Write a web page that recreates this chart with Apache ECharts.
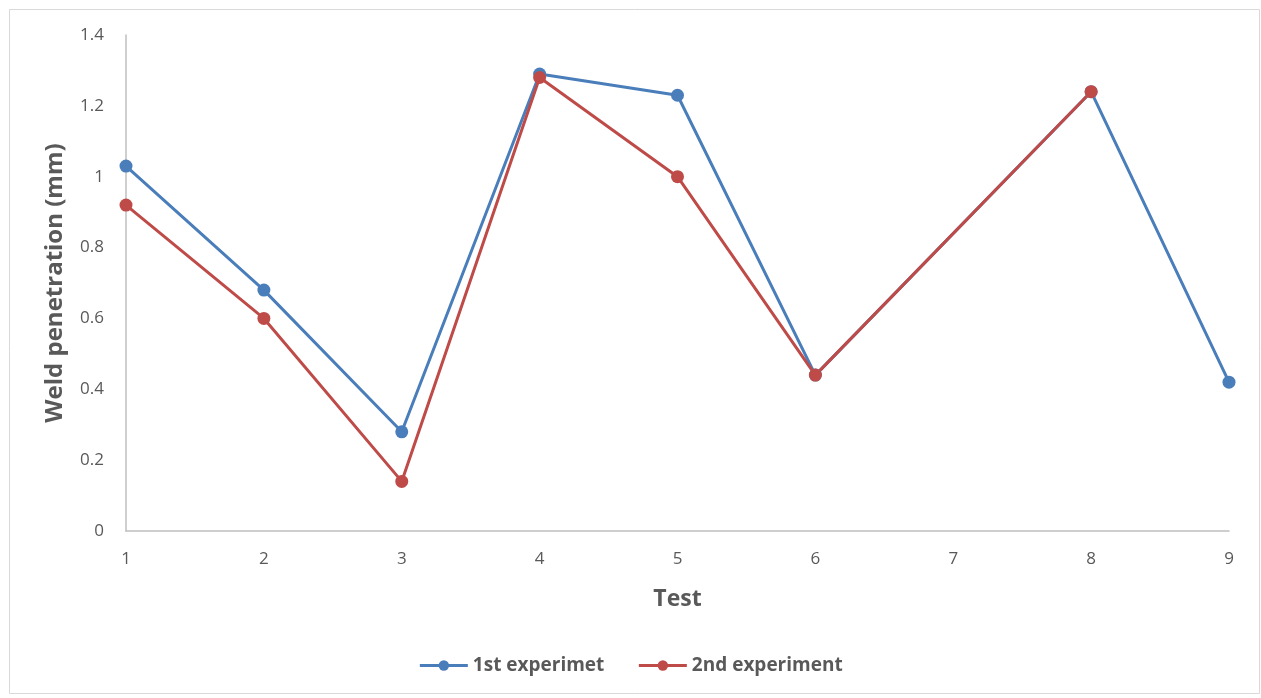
<!DOCTYPE html>
<html>
<head>
<meta charset="utf-8">
<script src="https://cdn.jsdelivr.net/npm/echarts@6/dist/echarts.min.js"></script>
<style>
  html, body { margin: 0; padding: 0; background: #ffffff; }
  #chart { width: 1261px; height: 698px; }
</style>
</head>
<body>
<div id="chart"></div>
<script>
// Test numbers along the x axis
const tests = ['1', '2', '3', '4', '5', '6', '7', '8', '9'];
// Weld penetration (mm) per test; null where no measurement was taken
const firstExperiment = [1.03, 0.68, 0.28, 1.29, 1.23, 0.44, null, 1.24, 0.42];
const secondExperiment = [0.92, 0.60, 0.14, 1.28, 1.00, 0.44, null, 1.24, null];
const seriesNames = ['1st experimet', '2nd experiment'];

const FONT = '"Open Sans", "Noto Sans", sans-serif';
const TEXT = '#595959';

const chart = echarts.init(document.getElementById('chart'), null, { renderer: 'canvas' });

chart.setOption({
  animation: false,
  backgroundColor: '#ffffff',
  textStyle: { fontFamily: FONT },
  graphic: [{
    type: 'rect',
    left: 7, top: 7,
    shape: { width: 1250, height: 684 },
    style: { fill: 'none', stroke: '#d9d9d9', lineWidth: 1 },
    silent: true
  }],
  grid: { left: 126, right: 32, top: 35, bottom: 167 },
  legend: {
    bottom: 18,
    left: 'center',
    itemGap: 33,
    itemWidth: 48,
    itemHeight: 13,
    lineStyle: { width: 3 },
    textStyle: { fontFamily: FONT, fontSize: 19, fontWeight: 'bold', color: TEXT },
    data: seriesNames
  },
  xAxis: {
    type: 'category',
    data: tests,
    boundaryGap: false,
    name: 'Test',
    nameLocation: 'middle',
    nameGap: 57,
    nameTextStyle: { fontFamily: FONT, fontSize: 23, fontWeight: 'bold', color: TEXT },
    axisLine: { lineStyle: { color: '#bfbfbf', width: 1.5 } },
    axisTick: { show: false },
    axisLabel: { color: TEXT, fontSize: 17, margin: 20, fontFamily: FONT },
    splitLine: { show: false }
  },
  yAxis: {
    type: 'value',
    min: 0,
    max: 1.4,
    interval: 0.2,
    name: 'Weld penetration (mm)',
    nameLocation: 'middle',
    nameGap: 59,
    nameTextStyle: { fontFamily: FONT, fontSize: 24, fontWeight: 'bold', color: TEXT },
    axisLine: { show: true, lineStyle: { color: '#bfbfbf', width: 1.5 } },
    axisTick: { show: false },
    axisLabel: {
      color: TEXT, fontSize: 17, margin: 22, fontFamily: FONT,
      formatter: v => String(Math.round(v * 10) / 10)
    },
    splitLine: { show: false }
  },
  series: [
    {
      name: seriesNames[0],
      type: 'line',
      data: firstExperiment,
      connectNulls: true,
      symbol: 'circle',
      symbolSize: 13,
      lineStyle: { color: '#4a7ebb', width: 3 },
      itemStyle: { color: '#4a7ebb' }
    },
    {
      name: seriesNames[1],
      type: 'line',
      data: secondExperiment,
      connectNulls: true,
      symbol: 'circle',
      symbolSize: 13,
      lineStyle: { color: '#be4b48', width: 3 },
      itemStyle: { color: '#be4b48' }
    }
  ]
});
</script>
</body>
</html>
